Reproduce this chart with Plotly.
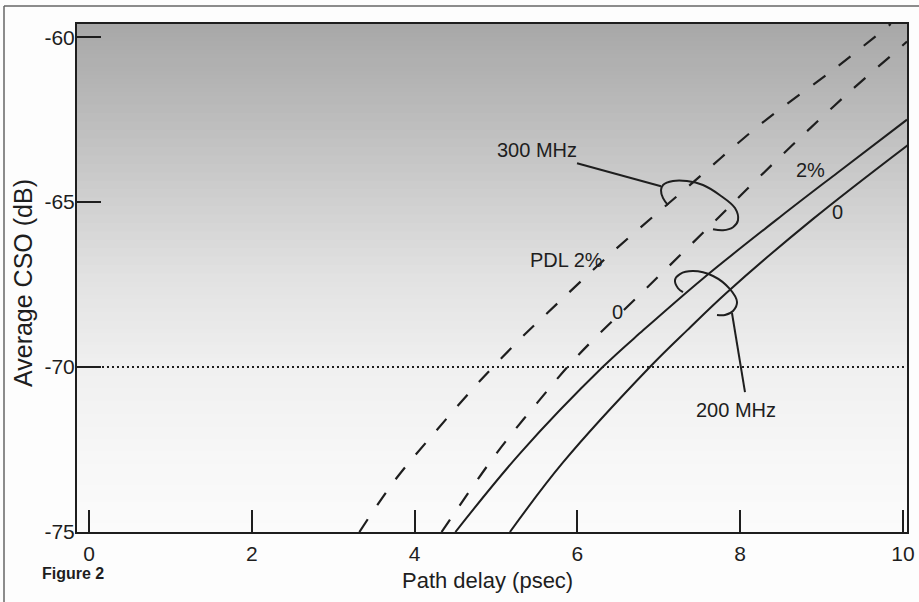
import plotly.graph_objects as go
import numpy as np

# ---------------- data ----------------
x_tick_vals = [0, 2, 4, 6, 8, 10]
x_tick_text = ["0", "2", "4", "6", "8", "10"]
y_tick_vals = [-75, -70, -65, -60]
y_tick_text = ["-75", "-70", "-65", "-60"]

# 300 MHz, PDL 2% (dashed, left)
x_300_pdl2 = [3.32, 3.76, 4.25, 4.78, 5.32, 5.63, 6.46, 7.35, 8.27, 9.19, 9.85]
y_300_pdl2 = [-75.0, -73.42, -71.97, -70.48, -69.09, -68.36, -66.45, -64.55, -62.6, -60.9, -59.6]

# 300 MHz, PDL 0 (dashed, right)
x_300_pdl0 = [4.33, 5.01, 5.50, 6.01, 6.86, 7.67, 8.21, 8.80, 9.37, 9.96, 10.05]
y_300_pdl0 = [-75.0, -72.6, -71.1, -69.64, -67.58, -65.62, -64.3, -62.9, -61.6, -60.33, -60.13]

# 200 MHz, PDL 2% (solid, left)
x_200_pdl2 = [4.50, 5.30, 6.31, 6.81, 7.54, 8.49, 9.20, 10.05]
y_200_pdl2 = [-75.0, -72.6, -70.0, -68.88, -67.32, -65.45, -64.1, -62.5]

# 200 MHz, PDL 0 (solid, right)
x_200_pdl0 = [5.17, 5.82, 6.89, 7.35, 7.84, 8.90, 10.06]
y_200_pdl0 = [-75.0, -72.9, -70.0, -68.88, -67.73, -65.5, -63.27]

spec_level = -70  # dotted reference line

# callout loops (drawn annotations)
loop300_x = [7.113, 7.052, 7.027, 7.052, 7.174, 7.346, 7.543, 7.752, 7.936, 7.973, 7.912, 7.789, 7.666]
loop300_y = [-65.09, -64.88, -64.64, -64.48, -64.36, -64.36, -64.48, -64.79, -65.18, -65.55, -65.76, -65.85, -65.82]
lead300_x = [5.995, 7.027]
lead300_y = [-63.82, -64.52]

loop200_x = [7.297, 7.236, 7.199, 7.260, 7.420, 7.666, 7.875, 7.961, 7.912, 7.813, 7.715]
loop200_y = [-67.73, -67.61, -67.36, -67.18, -67.09, -67.24, -67.64, -68.03, -68.30, -68.42, -68.42]
lead200_x = [7.899, 8.059]
lead200_y = [-68.36, -70.76]

labels = [
    ("300 MHz", 5.50, -63.42),
    ("PDL 2%", 5.87, -66.76),
    ("0", 6.49, -68.33),
    ("2%", 8.86, -64.03),
    ("0", 9.20, -65.3),
    ("200 MHz", 7.95, -71.3),
]

# ---------------- styling ----------------
W, H = 919, 602
# target plot box in page pixels: x 77..907, y 24..532
L, T = 77, 24
R = W - 907
B = H - 532
PW = W - L - R
PH = H - T - B
INK = "#1e1e1e"
FONT = "Liberation Sans, Arial, Helvetica, sans-serif"
x_range = [-0.15, 10.05]
y_range = [-75, -59.6]


def pxx(px):  # page pixel x -> paper x
    return (px - L) / PW


def pxy(py):  # page pixel y -> paper y
    return (H - B - py) / PH


fig = go.Figure()

# gradient background of plot area via stacked strips
anchors_f = [0.0, 0.15, 0.35, 0.50, 0.68, 0.85, 1.0]
anchors_c = [168, 184, 208, 226, 240, 247, 251]
n = 120
shapes = []
for i in range(n):
    f0 = i / n
    f1 = (i + 1) / n
    fm = (f0 + f1) / 2
    g = int(round(np.interp(fm, anchors_f, anchors_c)))
    shapes.append(dict(type="rect", xref="paper", yref="paper",
                       x0=0, x1=1, y0=max(0, 1 - f1 - 0.002), y1=1 - f0,
                       fillcolor=f"rgb({g},{g},{g})", line=dict(width=0),
                       layer="below"))

# dotted -70 line
shapes.append(dict(type="line", xref="paper", yref="y", x0=0, x1=1,
                   y0=spec_level, y1=spec_level,
                   line=dict(color=INK, width=2, dash="2px,3px")))

# page border lines (scan frame)
shapes.append(dict(type="line", xref="paper", yref="paper",
                   x0=pxx(4), x1=pxx(4), y0=pxy(6), y1=pxy(602),
                   line=dict(color="#666", width=1.5)))
shapes.append(dict(type="line", xref="paper", yref="paper",
                   x0=pxx(4), x1=pxx(919), y0=pxy(6), y1=pxy(6),
                   line=dict(color="#666", width=1.5)))

dash_style = "15px,17px"
fig.add_trace(go.Scatter(x=x_300_pdl2, y=y_300_pdl2, mode="lines",
                         line=dict(color=INK, width=2.2, dash=dash_style, shape="spline", smoothing=1.0)))
fig.add_trace(go.Scatter(x=x_300_pdl0, y=y_300_pdl0, mode="lines",
                         line=dict(color=INK, width=2.2, dash=dash_style, shape="spline", smoothing=1.0)))
fig.add_trace(go.Scatter(x=x_200_pdl2, y=y_200_pdl2, mode="lines",
                         line=dict(color=INK, width=2, shape="spline", smoothing=1.0)))
fig.add_trace(go.Scatter(x=x_200_pdl0, y=y_200_pdl0, mode="lines",
                         line=dict(color=INK, width=2, shape="spline", smoothing=1.0)))

for lx, ly, shp in [(loop300_x, loop300_y, "spline"), (lead300_x, lead300_y, "linear"),
                    (loop200_x, loop200_y, "spline"), (lead200_x, lead200_y, "linear")]:
    fig.add_trace(go.Scatter(x=lx, y=ly, mode="lines",
                             line=dict(color=INK, width=2, shape=shp, smoothing=1.0)))

annotations = []
for txt, ax_, ay_ in labels:
    annotations.append(dict(text=txt, x=ax_, y=ay_, xref="x", yref="y",
                            showarrow=False, font=dict(family=FONT, size=20, color=INK)))

# axis titles
annotations.append(dict(text="Path delay (psec)", x=pxx(487), y=pxy(580),
                        xref="paper", yref="paper", xanchor="center", yanchor="middle",
                        showarrow=False, font=dict(family=FONT, size=22, color=INK)))
annotations.append(dict(text="Average CSO (dB)", x=pxx(23), y=pxy(283),
                        xref="paper", yref="paper", xanchor="center", yanchor="middle",
                        textangle=-90,
                        showarrow=False, font=dict(family=FONT, size=25, color=INK)))
annotations.append(dict(text="<b>Figure 2</b>", x=pxx(40), y=pxy(573),
                        xref="paper", yref="paper", xanchor="left", yanchor="middle",
                        showarrow=False, font=dict(family=FONT, size=16, color=INK)))

fig.update_layout(
    width=W, height=H,
    margin=dict(l=L, r=R, t=T, b=B, pad=0, autoexpand=False),
    paper_bgcolor="#fdfdfd",
    plot_bgcolor="rgba(0,0,0,0)",
    showlegend=False,
    hovermode=False,
    shapes=shapes,
    annotations=annotations,
    font=dict(family=FONT, size=21, color=INK),
)
fig.update_xaxes(range=x_range, tickvals=x_tick_vals, ticktext=x_tick_text,
                 ticks="inside", ticklen=22,
                 tickwidth=2, tickcolor=INK, showgrid=False, zeroline=False,
                 showline=True, linecolor=INK, linewidth=2, mirror=True,
                 automargin=False, ticklabelstandoff=2,
                 tickfont=dict(family=FONT, size=21, color=INK))
fig.update_yaxes(range=y_range, tickvals=y_tick_vals, ticktext=y_tick_text,
                 ticks="inside", ticklen=24,
                 tickwidth=2, tickcolor=INK, showgrid=False, zeroline=False,
                 showline=True, linecolor=INK, linewidth=2, mirror=True,
                 automargin=False, ticklabelstandoff=-4,
                 tickfont=dict(family=FONT, size=21, color=INK))

fig.write_html("out.html",
               config={"displayModeBar": False, "staticPlot": True},
               post_script="document.body.style.margin='0';document.body.style.overflow='hidden';")
